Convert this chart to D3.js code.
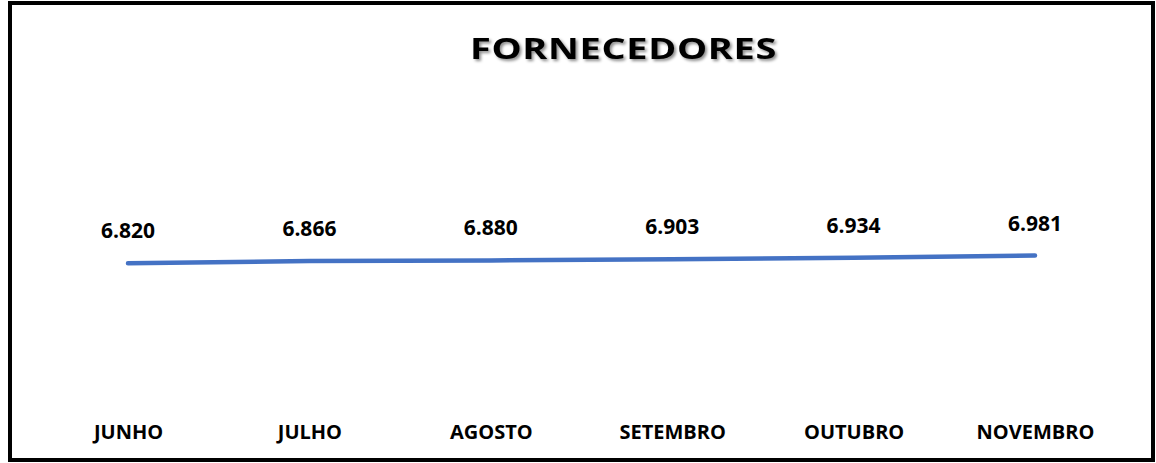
<!DOCTYPE html>
<html>
<head>
<meta charset="utf-8">
<script src="https://cdn.jsdelivr.net/npm/d3@7"></script>
<style>
  html, body { margin: 0; padding: 0; background: #fff; }
  svg { display: block; }
</style>
</head>
<body>
<div id="chart"></div>
<script>
const months = ['JUNHO', 'JULHO', 'AGOSTO', 'SETEMBRO', 'OUTUBRO', 'NOVEMBRO'];
const fornecedores = [6820, 6866, 6880, 6903, 6934, 6981];
const title_text = 'FORNECEDORES';

const width = 1156;
const height = 463;

const svg = d3.select('#chart')
    .append('svg')
    .attr('width', width)
    .attr('height', height);

const defs = svg.append('defs');
const shadow = defs.append('filter')
    .attr('id', 'title-shadow')
    .attr('x', '-10%').attr('y', '-30%')
    .attr('width', '120%').attr('height', '160%');
shadow.append('feDropShadow')
    .attr('dx', 2).attr('dy', 2)
    .attr('stdDeviation', 1.6)
    .attr('flood-color', '#000')
    .attr('flood-opacity', 0.45);

// outer frame
svg.append('rect')
    .attr('x', 10).attr('y', 3)
    .attr('width', 1143).attr('height', 457)
    .attr('fill', '#fff')
    .attr('stroke', '#000')
    .attr('stroke-width', 4);

const x = d3.scalePoint()
    .domain(months)
    .range([128, 1035]);

const y = d3.scaleLinear()
    .domain([6000, 7500])
    .range([303, 230.4]);

const font = "'Open Sans', sans-serif";

svg.append('text')
    .attr('x', 470)
    .attr('y', 59)
    .attr('textLength', 307)
    .attr('lengthAdjust', 'spacingAndGlyphs')
    .attr('filter', 'url(#title-shadow)')
    .style('font-family', font)
    .style('font-weight', 700)
    .style('font-size', '28px')
    .style('letter-spacing', '0.5px')
    .text(title_text);

const line = d3.line()
    .x((d, i) => x(months[i]))
    .y(d => y(d));

svg.append('path')
    .datum(fornecedores)
    .attr('fill', 'none')
    .attr('stroke', '#4472C4')
    .attr('stroke-width', 4.5)
    .attr('stroke-linecap', 'round')
    .attr('d', line);

svg.selectAll('.value-label')
    .data(fornecedores)
    .enter()
    .append('text')
    .attr('class', 'value-label')
    .attr('x', (d, i) => x(months[i]))
    .attr('y', d => y(d) - 25)
    .attr('text-anchor', 'middle')
    .style('font-family', font)
    .style('font-weight', 700)
    .style('font-size', '21px')
    .text(d => d3.format(',')(d).replace(',', '.'));

const x_axis = d3.axisBottom(x).tickSize(0).tickPadding(0);
const axis_g = svg.append('g')
    .attr('transform', 'translate(0, 439)')
    .call(x_axis);
axis_g.select('.domain').remove();
axis_g.selectAll('text')
    .attr('y', 0)
    .attr('dy', 0)
    .attr('fill', '#000')
    .style('font-family', font)
    .style('font-weight', 700)
    .style('font-size', '20px');
</script>
</body>
</html>
